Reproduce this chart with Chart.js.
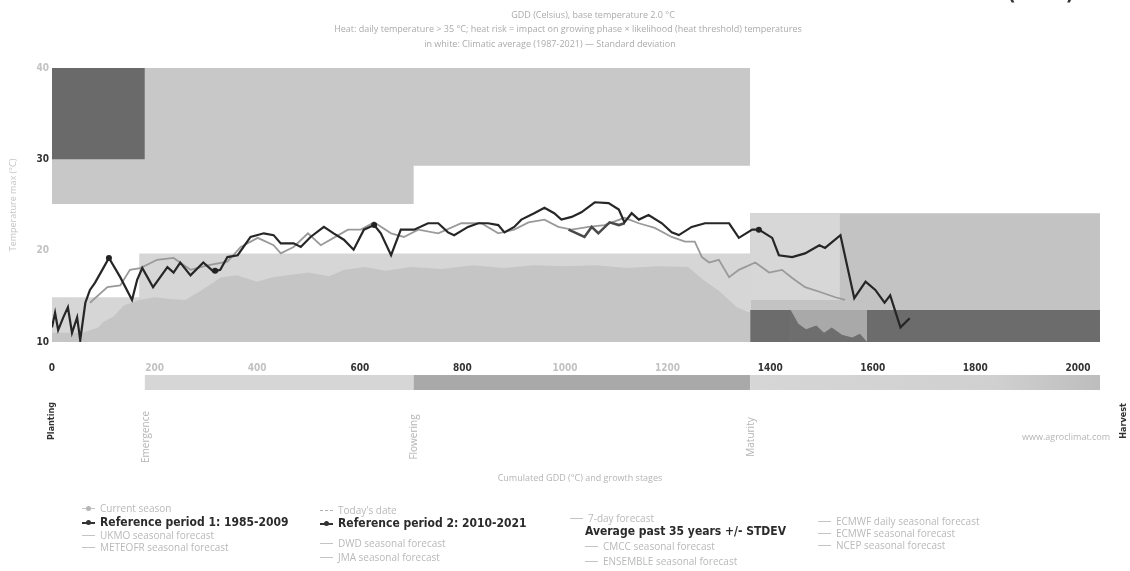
<!DOCTYPE html>
<html>
<head>
<meta charset="utf-8">
<script src="https://cdn.jsdelivr.net/npm/chart.js@4.4.0/dist/chart.umd.min.js"></script>
<style>
    html, body { margin: 0; padding: 0; background: #fff; }
    #wrap { position: relative; width: 1130px; height: 571px; overflow: hidden; font-family: "Open Sans", sans-serif; }
    #wrap canvas { position: absolute; left: 0; top: 0; }
    .top-note { position: absolute; left: 842px; top: -19px; font: bold 20px "DejaVu Sans Condensed", sans-serif; color: #333; white-space: nowrap; }
    .lg { position: absolute; font-size: 10px; color: #b9b9b9; white-space: nowrap; line-height: 12px; transform: translateY(-50%); }
    .lg.bold { font: bold 12px "DejaVu Sans Condensed", sans-serif; color: #2b2b2b; }
    .sym { position: absolute; top: 50%; width: 13px; height: 0; border-top: 1px solid #c4c4c4; }
    .sym.dot::after { content: ""; position: absolute; left: 4px; top: -3.5px; width: 5px; height: 5px; border-radius: 50%; background: #b5b5b5; }
    .sym.dark { border-top: 2px solid #333; }
    .sym.dark::after { background: #333; top: -4px; }
    .sym.dash { border-top: 1px dashed #b0b0b0; }
</style>
</head>
<body>
<div id="wrap">
    <canvas id="grafik-gdd"></canvas>
    <div class="top-note">Maize · Field 11 (2022)</div>
</div>
<script>
// cumulated GDD (x) and max temperature (y)
const currentGdd = [0, 6, 12, 22, 31, 39, 49, 55, 65, 74, 84, 98, 111, 133, 156, 166, 176, 186, 197, 211, 225, 237, 250, 270, 295, 315, 328, 342, 362, 387, 413, 432, 446, 471, 485, 504, 530, 549, 569, 588, 608, 628, 641, 661, 680, 706, 733, 753, 772, 784, 811, 831, 850, 870, 882, 901, 915, 940, 960, 979, 993, 1013, 1032, 1058, 1085, 1105, 1116, 1130, 1144, 1163, 1189, 1208, 1222, 1247, 1273, 1300, 1320, 1339, 1365, 1378, 1404, 1417, 1443, 1468, 1496, 1507, 1537, 1564, 1586, 1605, 1623, 1634, 1654, 1672];
const currentTemp = [11.6, 13.2, 11.3, 12.7, 13.8, 11.0, 12.7, 10.2, 14.3, 15.7, 16.5, 17.9, 19.2, 17.1, 14.6, 16.8, 18.1, 17.1, 16.0, 17.1, 18.2, 17.6, 18.7, 17.3, 18.7, 17.7, 17.9, 19.3, 19.5, 21.5, 21.9, 21.7, 20.8, 20.8, 20.4, 21.5, 22.6, 21.9, 21.2, 20.1, 22.3, 22.8, 21.9, 19.5, 22.3, 22.3, 23.0, 23.0, 22.0, 21.7, 22.6, 23.0, 23.0, 22.8, 22.0, 22.6, 23.4, 24.1, 24.7, 24.1, 23.4, 23.7, 24.2, 25.3, 25.2, 24.5, 23.1, 24.1, 23.4, 23.9, 23.0, 22.0, 21.7, 22.6, 23.0, 23.0, 23.0, 21.4, 22.3, 22.3, 21.4, 19.5, 19.3, 19.7, 20.6, 20.3, 21.7, 14.8, 16.6, 15.7, 14.3, 15.1, 11.6, 12.6];

const refGdd = [74, 108, 133, 152, 172, 205, 237, 270, 303, 342, 368, 401, 432, 446, 471, 499, 524, 549, 577, 602, 628, 661, 686, 714, 753, 798, 837, 870, 901, 929, 960, 987, 1013, 1046, 1077, 1116, 1144, 1175, 1208, 1234, 1253, 1267, 1281, 1300, 1320, 1339, 1371, 1398, 1423, 1443, 1468, 1496, 1527, 1546];
const refTemp = [14.3, 16.0, 16.2, 17.9, 18.1, 19.0, 19.2, 17.9, 18.4, 18.8, 20.4, 21.4, 20.6, 19.7, 20.4, 21.9, 20.6, 21.4, 22.3, 22.3, 23.1, 21.9, 21.5, 22.3, 21.9, 23.0, 23.0, 21.9, 22.3, 23.1, 23.4, 22.6, 22.3, 22.6, 22.8, 23.6, 23.0, 22.5, 21.5, 21.0, 21.0, 19.3, 18.7, 19.0, 17.1, 17.9, 18.7, 17.6, 17.9, 17.0, 16.0, 15.5, 14.9, 14.6];

const forecastGdd = [1007, 1038, 1052, 1065, 1087, 1105, 1116];
const forecastTemp = [22.3, 21.5, 22.6, 21.9, 23.1, 22.8, 23.0];

const markerGdd = [111, 318, 628, 1378];
const markerTemp = [19.2, 17.8, 22.8, 22.3];

// heat risk zones
const severeHeatGdd = [0, 181];
const severeHeatTemp = [30.0, 30.0];
const heatGdd = [0, 705, 705, 1361];
const heatTemp = [25.1, 25.1, 29.3, 29.3];

// average past 35 years +/- STDEV
const stdevGdd = [0, 170, 170, 1361];
const stdevTemp = [14.9, 14.9, 19.7, 19.7];
const avgGdd = [0, 60, 90, 100, 120, 140, 170, 200, 230, 260, 290, 330, 360, 400, 430, 470, 500, 540, 570, 610, 650, 700, 760, 820, 880, 940, 1000, 1060, 1120, 1180, 1240, 1270, 1300, 1335, 1361];
const avgTemp = [11.0, 11.0, 11.6, 12.2, 12.8, 14.0, 14.6, 14.9, 14.7, 14.6, 15.6, 17.1, 17.3, 16.6, 17.1, 17.4, 17.6, 17.2, 17.9, 18.2, 17.8, 18.2, 18.0, 18.4, 18.1, 18.4, 18.3, 18.4, 18.1, 18.3, 18.2, 16.8, 15.6, 13.8, 13.2];

// seasonal forecast zone after maturity
const seasonGdd = [1361, 2043];
const seasonTemp = [24.1, 24.1];
const seasonNearGdd = [1361, 1536];
const seasonNearTemp = [24.1, 24.1];
const coldGdd = [1361, 2043];
const coldTemp = [13.5, 13.5];
const coldGapGdd = [1440, 1589];
const coldGapTemp = [13.5, 13.5];
const coldLowGdd = [1440, 1455, 1470, 1490, 1505, 1520, 1540, 1560, 1575, 1589];
const coldLowTemp = [13.5, 12.0, 11.4, 11.8, 11.0, 11.6, 10.8, 10.5, 10.9, 10.0];

const stageNames = ["Planting", "Emergence", "Flowering", "Maturity", "Harvest"];
const stageGdd = [0, 181, 705, 1361, 2090];

const titleLines = [
    "GDD (Celsius), base temperature 2.0 °C",
    "Heat: daily temperature > 35 °C; heat risk = impact on growing phase × likelihood (heat threshold) temperatures",
    "in white: Climatic average (1987-2021) — Standard deviation",
];

const legendItems = [
    ["Current season", "dot"],
    ["Reference period 1: 1985-2009", "dark"],
    ["UKMO seasonal forecast", "line"],
    ["METEOFR seasonal forecast", "line"],
    ["Today's date", "dash"],
    ["Reference period 2: 2010-2021", "dark"],
    ["DWD seasonal forecast", "line"],
    ["JMA seasonal forecast", "line"],
    ["7-day forecast", "line"],
    ["Average past 35 years +/- STDEV", "none"],
    ["CMCC seasonal forecast", "line"],
    ["ENSEMBLE seasonal forecast", "line"],
    ["ECMWF daily seasonal forecast", "line"],
    ["ECMWF seasonal forecast", "line"],
    ["NCEP seasonal forecast", "line"],
];
// legend placement (left of symbol, vertical centre)
const legendSpots = [
    [82, 508], [82, 522], [82, 535], [82, 547],
    [320, 510], [320, 523], [320, 543], [320, 557],
    [570, 518], [585, 531], [585, 546], [585, 561],
    [818, 521], [818, 533], [818, 545],
];

const pts = (xs, ys) => xs.map((x, i) => ({ x: x, y: ys[i] }));

const area = (xs, ys, color, fill, order) => ({
    data: pts(xs, ys),
    backgroundColor: color,
    borderWidth: 0,
    pointRadius: 0,
    fill: fill,
    order: order,
});

const wrap = document.getElementById("wrap");
legendItems.forEach((item, i) => {
    const el = document.createElement("div");
    const kind = item[1];
    el.className = "lg" + (kind === "dark" || kind === "none" ? " bold" : "");
    el.style.left = (legendSpots[i][0] + (kind === "none" ? 0 : 18)) + "px";
    el.style.top = legendSpots[i][1] + "px";
    if (kind !== "none") {
        const s = document.createElement("span");
        s.className = "sym" + (kind === "dot" ? " dot" : kind === "dark" ? " dot dark" : kind === "dash" ? " dash" : "");
        s.style.left = "-18px";
        el.appendChild(s);
    }
    el.appendChild(document.createTextNode(item[0]));
    wrap.appendChild(el);
});

const extras = {
    id: "extras",
    afterDraw(chart) {
        const ctx = chart.ctx;
        const x = chart.scales.x;
        const ca = chart.chartArea;
        ctx.save();

        ctx.fillStyle = "#ababab";
        ctx.font = "9px 'Open Sans'";
        ctx.textAlign = "center";
        ctx.textBaseline = "middle";
        titleLines.forEach((t, i) => ctx.fillText(t, 568 + (i === 0 ? 25 : i === 2 ? -18 : 0), 15 + i * 14.5));

        // growth stage bar
        const barColors = ["#d6d6d6", "#a9a9a9", "#d4d4d4"];
        for (let i = 1; i < 4; i++) {
            const a = x.getPixelForValue(stageGdd[i]);
            const b = Math.min(x.getPixelForValue(stageGdd[i + 1]), ca.right);
            let fill = barColors[i - 1];
            if (i === 3) {
                fill = ctx.createLinearGradient(a, 0, b, 0);
                fill.addColorStop(0, "#d6d6d6");
                fill.addColorStop(0.7, "#d0d0d0");
                fill.addColorStop(1, "#bdbdbd");
            }
            ctx.fillStyle = fill;
            ctx.fillRect(a, 375, b - a, 15);
        }

        // stage names, vertical
        stageNames.forEach((name, i) => {
            const px = x.getPixelForValue(stageGdd[i]);
            const edge = i === 0 || i === 4;
            ctx.save();
            ctx.translate(px + (edge ? 0 : 1), edge ? 421 : 437);
            ctx.rotate(-Math.PI / 2);
            ctx.fillStyle = edge ? "#333" : "#b5b5b5";
            ctx.font = edge ? "bold 9px 'DejaVu Sans Condensed'" : "10px 'Open Sans'";
            ctx.fillText(name, 0, 0);
            ctx.restore();
        });

        ctx.fillStyle = "#b5b5b5";
        ctx.font = "9px 'Open Sans'";
        ctx.fillText("www.agroclimat.com", 1066, 437);
        ctx.fillText("Cumulated GDD (°C) and growth stages", 580, 478);
        ctx.restore();
    },
};

const darkXTicks = [0, 600, 800, 1400, 1600, 1800, 2000];
const darkYTicks = [10, 30];

new Chart(document.getElementById("grafik-gdd"), {
    type: "line",
    data: {
        datasets: [
            {
                label: "Current season markers",
                data: pts(markerGdd, markerTemp),
                showLine: false,
                pointRadius: 3,
                pointBackgroundColor: "#222",
                pointBorderWidth: 0,
                order: 0,
            },
            {
                label: "Current season",
                data: pts(currentGdd, currentTemp),
                borderColor: "#262626",
                borderWidth: 2.2,
                pointRadius: 0,
                tension: 0,
                order: 1,
            },
            {
                label: "7-day forecast",
                data: pts(forecastGdd, forecastTemp),
                borderColor: "#4a4a4a",
                borderWidth: 2.6,
                pointRadius: 0,
                order: 1,
            },
            {
                label: "Reference period 1: 1985-2009",
                data: pts(refGdd, refTemp),
                borderColor: "#9a9a9a",
                borderWidth: 1.8,
                pointRadius: 0,
                order: 2,
            },
            area(coldLowGdd, coldLowTemp, "#6e6e6e", { value: 10 }, 7),
            area(coldGapGdd, coldGapTemp, "#a9a9a9", { value: 10 }, 8),
            area(coldGdd, coldTemp, "#6c6c6c", { value: 10 }, 9),
            area(seasonNearGdd, seasonNearTemp, "#d7d7d7", { value: 14.6 }, 10),
            area(seasonGdd, seasonTemp, "#c3c3c3", { value: 10 }, 11),
            area(avgGdd, avgTemp, "#c5c5c5", { value: 10 }, 10),
            area(stdevGdd, stdevTemp, "#d6d6d6", { value: 10 }, 11),
            area(severeHeatGdd, severeHeatTemp, "#6a6a6a", "end", 10),
            area(heatGdd, heatTemp, "#c8c8c8", "end", 11),
        ],
    },
    options: {
        responsive: true,
        maintainAspectRatio: false,
        devicePixelRatio: 1,
        animation: false,
        layout: { padding: { top: 68, right: 30, left: 0, bottom: 0 } },
        plugins: {
            legend: { display: false },
            tooltip: { enabled: false },
        },
        scales: {
            x: {
                type: "linear",
                min: 0,
                max: 2043,
                grid: { display: false, drawTicks: false },
                border: { display: false },
                ticks: {
                    stepSize: 200,
                    includeBounds: false,
                    padding: 20,
                    maxRotation: 0,
                    callback: (v) => String(v),
                    font: { family: "DejaVu Sans Condensed", size: 10, weight: "bold" },
                    color: (c) => (darkXTicks.includes(c.tick.value) ? "#333" : "#c2c2c2"),
                },
                afterFit: (s) => { s.height = 229; },
            },
            y: {
                min: 10,
                max: 40,
                grid: { display: false, drawTicks: false },
                border: { display: false },
                ticks: {
                    stepSize: 10,
                    padding: 3,
                    font: { family: "DejaVu Sans Condensed", size: 10, weight: "bold" },
                    color: (c) => (darkYTicks.includes(c.tick.value) ? "#333" : "#c2c2c2"),
                },
                title: {
                    display: true,
                    text: "Temperature max (°C)",
                    color: "#c4c4c4",
                    font: { family: "Open Sans", size: 9 },
                    padding: { top: 8, bottom: 0 },
                },
                afterFit: (s) => { s.width = 52; },
            },
        },
    },
    plugins: [extras],
});
</script>
</body>
</html>
